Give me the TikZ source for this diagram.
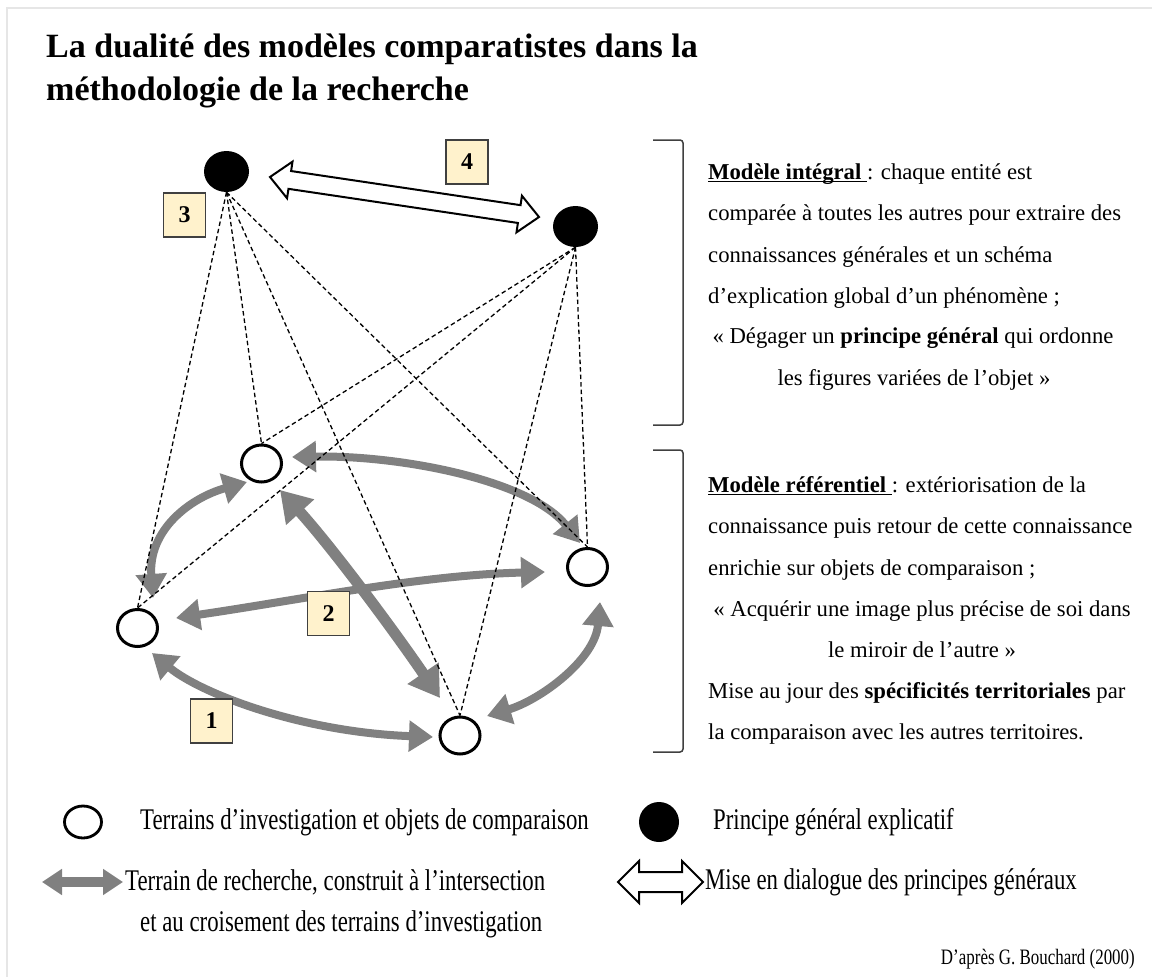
\documentclass[tikz,border=0pt]{standalone}
\usepackage{fontspec}
\usepackage{graphicx}
\setmainfont{Liberation Serif}
\usetikzlibrary{arrows.meta,shapes.geometric,calc}
\definecolor{arrowgray}{HTML}{808080}
\definecolor{boxfill}{HTML}{FFF2CC}
\definecolor{boxline}{HTML}{404040}
\definecolor{bracketcol}{HTML}{404040}
\definecolor{framecol}{HTML}{E6E6E6}
\newcommand{\ulbase}[1]{\setbox0\hbox{#1}\rlap{\rule[-2.6pt]{\wd0}{1.1pt}}\box0}
\newcommand{\hollowdarrow}[5]{%
  \path ($(#1)!#5!(#2)$) coordinate (hb1) ($(#2)!#5!(#1)$) coordinate (hb2);
  \draw[hollowstyle] (#1) -- ($(hb1)!#4!90:(#2)$) -- ($(hb1)!#3!90:(#2)$)
    -- ($(hb2)!#3!-90:(#1)$) -- ($(hb2)!#4!-90:(#1)$) -- (#2)
    -- ($(hb2)!#4!90:(#1)$) -- ($(hb2)!#3!90:(#1)$)
    -- ($(hb1)!#3!-90:(#2)$) -- ($(hb1)!#4!-90:(#2)$) -- cycle;}
\begin{document}
\begin{tikzpicture}[x=1pt,y=-1pt,
  objnode/.style={ellipse, draw=black, line width=3pt, minimum width=40pt, minimum height=37pt, inner sep=0pt},
  prinnode/.style={ellipse, fill=black, minimum width=45pt, minimum height=41pt, inner sep=0pt},
  numbox/.style={draw=boxline, fill=boxfill, line width=1.2pt, minimum width=42pt, minimum height=44pt, inner sep=0pt, font=\fontsize{24}{28}\selectfont\bfseries},
  dashedlink/.style={line width=1.3pt, dash pattern=on 4.5pt off 3pt},
  grayarrow/.style={draw=arrowgray, line width=8pt, {Triangle[length=24pt,width=30pt]}-{Triangle[length=24pt,width=30pt]}},
  bigarrow/.style={draw=arrowgray, line width=11pt, {Triangle[length=30pt,width=36pt]}-{Triangle[length=30pt,width=36pt]}},
  legarrow/.style={draw=arrowgray, line width=10pt, {Triangle[length=20pt,width=25pt]}-{Triangle[length=20pt,width=25pt]}},
  hollowstyle/.style={draw=black, fill=white, line width=2pt, line join=miter},
  bracketstyle/.style={draw=bracketcol, line width=1.5pt, rounded corners=3pt},
  titletext/.style={inner sep=0pt, font=\fontsize{34}{40}\selectfont\bfseries},
  bodytext/.style={inner sep=0pt, font=\fontsize{22.7}{27}\selectfont},
  legtext/.style={inner sep=0pt, font=\fontsize{30}{34}\selectfont},
  credtext/.style={inner sep=0pt, font=\fontsize{22}{26}\selectfont}]
\path[use as bounding box] (0,0) rectangle (1152,977);
\fill[white] (0,0) rectangle (1152,977);
\draw[framecol, line width=2pt] (7,977) -- (7,8) -- (1152,8);
% title
\node[titletext, anchor=base west] (title1) at (46,57) {La dualité des modèles comparatistes dans la};
\node[titletext, anchor=base west] (title2) at (46,100) {méthodologie de la recherche};
% nodes
\node[prinnode] (P1) at (226.5,171.5) {};
\node[prinnode] (P2) at (575.5,226.5) {};
\node[objnode] (A) at (261.5,463.5) {};
\node[objnode] (B) at (137.5,628) {};
\node[objnode] (C) at (587.5,567) {};
\node[objnode] (D) at (460,735.5) {};
% gray arrows
\coordinate (a1s) at (152,653); \coordinate (a1e) at (433,737);
\coordinate (a2s) at (153,598); \coordinate (a2e) at (247,482);
\coordinate (a3s) at (292,457); \coordinate (a3e) at (580,543);
\coordinate (a4s) at (600,602); \coordinate (a4e) at (487,716);
\coordinate (a5s) at (176,618); \coordinate (a5e) at (545,572);
\coordinate (a6s) at (280,490); \coordinate (a6e) at (440,698);
\draw[grayarrow] (a1s) .. controls (200,693) and (300,732) .. (a1e);
\draw[grayarrow] (a2s) .. controls (148,530) and (190,498) .. (a2e);
\draw[grayarrow] (a3s) .. controls (400,455) and (530,480) .. (a3e);
\draw[grayarrow] (a4s) .. controls (595,660) and (540,700) .. (a4e);
\draw[grayarrow] (a5s) .. controls (300,600) and (420,575) .. (a5e);
\draw[bigarrow] (a6s) .. controls (330,545) and (390,625) .. (a6e);
% dashed links
\foreach \t in {A,B,C,D}{
  \draw[dashedlink] (P1.south) -- (\t.north);
  \draw[dashedlink] (P2.south) -- (\t.north);
}
% hollow arrow
\coordinate (h1) at (270,177); \coordinate (h2) at (539,217);
\hollowdarrow{h1}{h2}{9pt}{18.5pt}{20pt}
% number boxes
\node[numbox] (n1) at (211.5,721) {1};
\node[numbox] (n2) at (328.5,613.5) {2};
\node[numbox] (n3) at (184.5,215) {3};
\node[numbox] (n4) at (467,162) {4};
% brackets
\draw[bracketstyle] (653,140) -- (683,140) -- (683,425) -- (653,425);
\draw[bracketstyle] (653,450) -- (683,450) -- (683,752) -- (653,752);
% right texts
\node[bodytext, anchor=base west] (t1) at (708,179) {\ulbase{\textbf{Modèle intégral} }: chaque entité est};
\node[bodytext, anchor=base west] (t2) at (708,220) {comparée à toutes les autres pour extraire des};
\node[bodytext, anchor=base west] (t3) at (708,262) {connaissances générales et un schéma};
\node[bodytext, anchor=base west] (t4) at (708,303) {d’explication global d’un phénomène ;};
\node[bodytext, anchor=base] (t5) at (913,343) {« Dégager un \textbf{principe général} qui ordonne};
\node[bodytext, anchor=base] (t6) at (914,385) {les figures variées de l’objet »};
\node[bodytext, anchor=base west] (r1) at (708,492) {\ulbase{\textbf{Modèle référentiel} }: extériorisation de la};
\node[bodytext, anchor=base west] (r2) at (708,533) {connaissance puis retour de cette connaissance};
\node[bodytext, anchor=base west] (r3) at (708,575) {enrichie sur objets de comparaison ;};
\node[bodytext, anchor=base] (r4) at (922,616) {« Acquérir une image plus précise de soi dans};
\node[bodytext, anchor=base] (r5) at (922,657) {le miroir de l’autre »};
\node[bodytext, anchor=base west] (r6) at (708,698) {Mise au jour des \textbf{spécificités territoriales} par};
\node[bodytext, anchor=base west] (r7) at (708,739) {la comparaison avec les autres territoires.};
% legend
\node[objnode, minimum width=37pt, minimum height=32pt, line width=2.8pt] (legobj) at (83,822) {};
\node[legtext, anchor=west] (legobjtxt) at (140,822) {\scalebox{0.76}[1]{Terrains d’investigation et objets de comparaison}};
\node[prinnode, minimum width=40pt, minimum height=40pt] (legprin) at (659,822) {};
\node[legtext, anchor=west] (legprintxt) at (713,822) {\scalebox{0.76}[1]{Principe général explicatif}};
\coordinate (lg1) at (42,882); \coordinate (lg2) at (123,882);
\draw[legarrow] (lg1) -- (lg2);
\node[legtext, anchor=west] (legrech1) at (125,882) {\scalebox{0.76}[1]{Terrain de recherche, construit à l’intersection}};
\node[legtext, anchor=west] (legrech2) at (140,924) {\scalebox{0.76}[1]{et au croisement des terrains d’investigation}};
\coordinate (lh1) at (618,882); \coordinate (lh2) at (703,882);
\hollowdarrow{lh1}{lh2}{10pt}{21pt}{21pt}
\node[legtext, anchor=west] (legdial) at (705,882) {\scalebox{0.76}[1]{Mise en dialogue des principes généraux}};
\node[credtext, anchor=base east] (credit) at (1135,964) {\scalebox{0.77}[1]{D’après G. Bouchard (2000)}};
\end{tikzpicture}
\end{document}
